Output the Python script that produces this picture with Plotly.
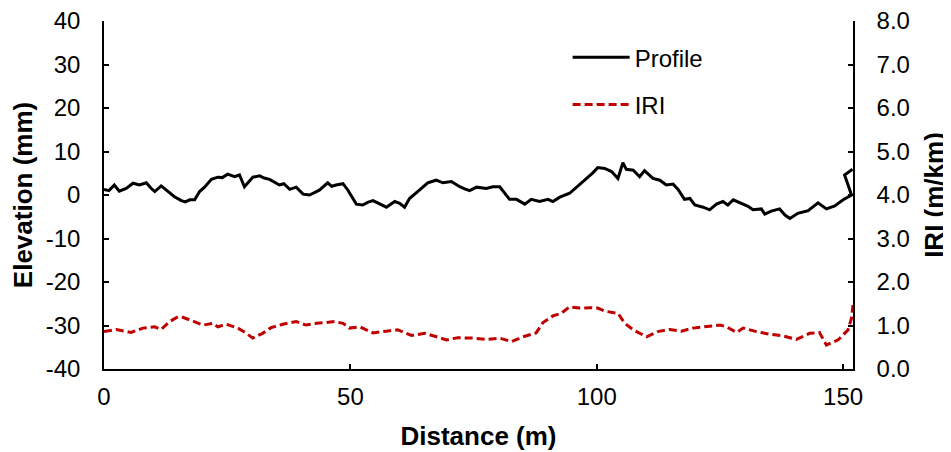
import plotly.graph_objects as go

# Profile (elevation, mm)
profile_dist = [0, 1, 2.1, 3.1, 4.5, 5.9, 7.2, 8.6, 9.5, 10.3, 11.6, 13, 14.3, 15.7, 16.5, 17.4, 18.4,
                19.4, 20.4, 21.8, 23.1, 24, 25.1, 26.5, 27.5, 28.5, 30.2, 31.6, 32.5, 33.6, 35.6,
                36.5, 37.7, 39, 40.4, 41.7, 43.7, 45.4, 46.2, 47.1, 48.5, 49.5, 51.2, 52.5, 53.5,
                54.6, 55.9, 57.3, 59, 60, 61, 62, 64, 65.7, 67.4, 68.8, 70.5, 72.2, 73.2, 74.2,
                75.6, 77.6, 78.9, 80.3, 82.3, 83.7, 85.4, 86.7, 88.4, 90.1, 91.1, 92.5, 94.5, 96.2,
                97.9, 99.2, 100.2, 101.6, 103, 104.3, 105.3, 106, 107.4, 108.7, 109.7, 111.4,
                112.8, 114.1, 115.5, 116.5, 117.8, 118.9, 119.9, 121.6, 122.9, 124.3, 125.6,
                126.6, 127.7, 129.7, 130.7, 131.7, 133.4, 134.1, 135.4, 137.1, 138.2, 139.2,
                140.8, 142.9, 144.9, 146.6, 148.3, 150, 151.7, 150.3, 151.9]
profile_elev = [1.3, 1.0, 2.3, 0.9, 1.5, 2.7, 2.3, 2.8, 1.6, 0.8, 2.1, 0.8, -0.4, -1.3, -1.6, -1.1,
                -1.1, 0.8, 1.8, 3.6, 4.1, 4.0, 4.8, 4.2, 4.6, 1.9, 4.1, 4.4, 3.9, 3.6, 2.3,
                2.6, 1.3, 1.8, 0.2, 0.0, 1.1, 2.8, 2.0, 2.3, 2.6, 1.1, -2.1, -2.3, -1.7,
                -1.3, -2.1, -2.8, -1.5, -1.9, -2.8, -0.8, 1.1, 2.8, 3.4, 2.8, 3.1, 1.9, 1.4, 1.0,
                1.8, 1.5, 1.9, 1.9, -1.0, -1.0, -2.1, -1.0, -1.5, -1.0, -1.5, -0.5, 0.4, 2.1,
                3.6, 5.1, 6.3, 6.1, 5.4, 3.8, 7.4, 5.9, 5.7, 4.2, 5.6, 3.8,
                3.4, 2.3, 2.5, 1.3, -1.0, -0.8, -2.3, -2.8, -3.4, -2.1, -1.5,
                -2.3, -1.1, -2.1, -2.6, -3.4, -3.2, -4.4, -3.7, -3.2, -4.6, -5.4,
                -4.2, -3.6, -1.8, -3.2, -2.5, -1.1, 0.0, 4.6, 5.9]

# IRI (m/km)
iri_dist = [0, 2.5, 5.5, 7.9, 10.3, 11.6, 13.3, 15, 16, 18, 20.1, 22.1, 23.1, 24.8, 27.2, 28.9,
            30.2, 32.2, 33.9, 36.3, 39, 41, 43.1, 45.1, 46.8, 48.5, 49.8, 51.9, 54.6, 57.3,
            59.6, 62.4, 65.1, 67.8, 69.5, 71.8, 74.9, 77.6, 80.3, 82.7, 85, 87.7, 89.1, 91.1,
            92.8, 94.5, 96.5, 98.6, 100.2, 101.6, 104.3, 105.7, 107.4, 110.1, 112.4, 114.8,
            117.2, 119.5, 121.9, 125, 126.3, 128.4, 129.7, 132.4, 135.1, 137.8, 140.5, 143.2,
            145.2, 146.6, 149, 151, 151.7, 152]
iri_vals = [0.86, 0.91, 0.84, 0.94, 0.97, 0.91, 1.09, 1.20, 1.19, 1.11, 1.01, 1.05, 0.97, 1.03,
            0.94, 0.82, 0.71, 0.82, 0.95, 1.03, 1.09, 1.01, 1.05, 1.07, 1.09, 1.05, 0.94, 0.97,
            0.83, 0.87, 0.90, 0.77, 0.82, 0.73, 0.67, 0.72, 0.71, 0.68, 0.71, 0.63, 0.74, 0.83,
            1.07, 1.22, 1.28, 1.43, 1.40, 1.41, 1.40, 1.33, 1.28, 1.05, 0.90, 0.74, 0.86, 0.91,
            0.87, 0.94, 0.97, 1.01, 0.97, 0.84, 0.94, 0.86, 0.80, 0.76, 0.68, 0.82, 0.84, 0.55,
            0.67, 0.90, 1.17, 1.47]

x_ticks = [0, 50, 100, 150]
y_ticks = [-40, -30, -20, -10, 0, 10, 20, 30, 40]
y_ticktext = ["-40", "-30", "-20", "-10", "0", "10", "20", "30", "40"]
y2_ticks = [0, 1, 2, 3, 4, 5, 6, 7, 8]
y2_ticktext = ["0.0", "1.0", "2.0", "3.0", "4.0", "5.0", "6.0", "7.0", "8.0"]

FONT = "Arial, Liberation Sans, sans-serif"

fig = go.Figure()
fig.add_trace(go.Scatter(x=profile_dist, y=profile_elev, mode="lines", name="Profile",
                         line=dict(color="black", width=3), legendgroup="a"))
fig.add_trace(go.Scatter(x=iri_dist, y=iri_vals, mode="lines", name="IRI", yaxis="y2",
                         line=dict(color="#C00000", width=3, dash="8px,4px"), legendgroup="b"))

axis_common = dict(showgrid=False, zeroline=False, showline=True, linecolor="black",
                   linewidth=1.5, ticks="inside", ticklen=5, tickcolor="black", tickwidth=1.5,
                   automargin=False, ticklabeloverflow="allow",
                   tickfont=dict(family=FONT, size=24, color="black"))

# The page body adds an 8 px offset; margins compensate so the plot box lands at
# x 104..853, y 21..369 in the window.
fig.update_layout(
    width=951, height=452,
    margin=dict(l=96, r=106, t=13, b=91),
    paper_bgcolor="white", plot_bgcolor="white",
    font=dict(family=FONT, size=24, color="black"),
    xaxis=dict(range=[0, 152], tickvals=x_ticks, ticklabelstandoff=5,
               title=dict(text="<b>Distance (m)</b>", font=dict(size=26), standoff=18),
               **axis_common),
    yaxis=dict(range=[-40, 40], tickvals=y_ticks, ticktext=y_ticktext, ticklabelstandoff=17,
               title=dict(text="<b>Elevation (mm)</b>", font=dict(size=26), standoff=10),
               **axis_common),
    yaxis2=dict(range=[0, 8], tickvals=y2_ticks, ticktext=y2_ticktext, overlaying="y",
                side="right", ticklabelstandoff=17,
                title=dict(text="<b>IRI (m/km)</b>", font=dict(size=26), standoff=16),
                **axis_common),
    legend=dict(x=0.619, y=0.959, xanchor="left", yanchor="top", bgcolor="rgba(0,0,0,0)",
                font=dict(family=FONT, size=24), itemwidth=57, tracegroupgap=13,
                traceorder="grouped"),
    showlegend=True,
)

fig.write_html("out.html")
